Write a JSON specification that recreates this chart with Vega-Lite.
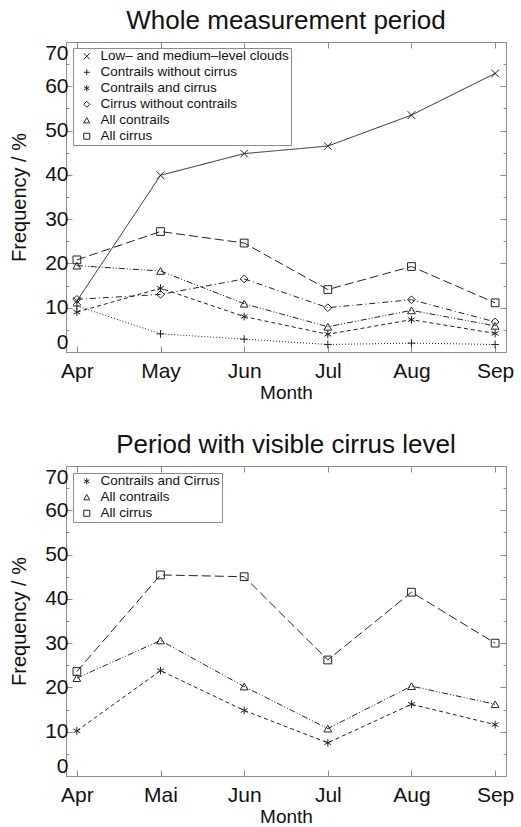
{
  "$schema": "https://vega.github.io/schema/vega-lite/v6.json",
  "padding": {"left": 9, "top": 7, "right": 5, "bottom": 0},
  "spacing": 28,
  "resolve": {"scale": {"shape": "independent", "strokeDash": "independent"}, "legend": {"shape": "independent", "strokeDash": "independent"}},
  "config": {
    "font": "Liberation Sans",
    "view": {"stroke": "#8c8c8c", "strokeWidth": 1},
    "axis": {"grid": false, "domain": false, "tickColor": "#8c8c8c", "labelColor": "#111", "titleColor": "#111", "titleFontWeight": "normal", "labelFont": "Liberation Sans", "titleFont": "Liberation Sans"},
    "title": {"fontSize": 26, "fontWeight": "normal", "color": "#111", "font": "Liberation Sans", "offset": 7.5},
    "legend": {"orient": "none", "legendX": 7, "legendY": 6, "title": null, "fillColor": "white", "strokeColor": "#8c8c8c", "padding": 1.5,
               "labelFontSize": 13.5, "labelFont": "Liberation Sans", "labelColor": "#111", "labelLimit": 300, "symbolSize": 36,
               "symbolStrokeColor": "#222", "symbolFillColor": "transparent", "symbolStrokeWidth": 1, "rowPadding": 1, "labelOffset": 7, "symbolOffset": 5.5}
  },
  "datasets": {
    "whole": [
      {"month": "Apr", "series": "Low– and medium–level clouds", "value": 11.5},
      {"month": "May", "series": "Low– and medium–level clouds", "value": 39.9},
      {"month": "Jun", "series": "Low– and medium–level clouds", "value": 44.8},
      {"month": "Jul", "series": "Low– and medium–level clouds", "value": 46.5},
      {"month": "Aug", "series": "Low– and medium–level clouds", "value": 53.5},
      {"month": "Sep", "series": "Low– and medium–level clouds", "value": 62.9},
      {"month": "Apr", "series": "Contrails without cirrus", "value": 10.4},
      {"month": "May", "series": "Contrails without cirrus", "value": 4.1},
      {"month": "Jun", "series": "Contrails without cirrus", "value": 2.9},
      {"month": "Jul", "series": "Contrails without cirrus", "value": 1.7},
      {"month": "Aug", "series": "Contrails without cirrus", "value": 2.0},
      {"month": "Sep", "series": "Contrails without cirrus", "value": 1.7},
      {"month": "Apr", "series": "Contrails and cirrus", "value": 9.0},
      {"month": "May", "series": "Contrails and cirrus", "value": 14.4},
      {"month": "Jun", "series": "Contrails and cirrus", "value": 8.0},
      {"month": "Jul", "series": "Contrails and cirrus", "value": 4.0},
      {"month": "Aug", "series": "Contrails and cirrus", "value": 7.3},
      {"month": "Sep", "series": "Contrails and cirrus", "value": 4.2},
      {"month": "Apr", "series": "Cirrus without contrails", "value": 11.9},
      {"month": "May", "series": "Cirrus without contrails", "value": 13.0},
      {"month": "Jun", "series": "Cirrus without contrails", "value": 16.5},
      {"month": "Jul", "series": "Cirrus without contrails", "value": 10.0},
      {"month": "Aug", "series": "Cirrus without contrails", "value": 11.8},
      {"month": "Sep", "series": "Cirrus without contrails", "value": 6.8},
      {"month": "Apr", "series": "All contrails", "value": 19.5},
      {"month": "May", "series": "All contrails", "value": 18.3},
      {"month": "Jun", "series": "All contrails", "value": 10.9},
      {"month": "Jul", "series": "All contrails", "value": 5.7},
      {"month": "Aug", "series": "All contrails", "value": 9.4},
      {"month": "Sep", "series": "All contrails", "value": 5.9},
      {"month": "Apr", "series": "All cirrus", "value": 20.8},
      {"month": "May", "series": "All cirrus", "value": 27.2},
      {"month": "Jun", "series": "All cirrus", "value": 24.6},
      {"month": "Jul", "series": "All cirrus", "value": 14.1},
      {"month": "Aug", "series": "All cirrus", "value": 19.3},
      {"month": "Sep", "series": "All cirrus", "value": 11.1}
    ],
    "visible": [
      {"month": "Apr", "series": "Contrails and Cirrus", "value": 10.2},
      {"month": "Mai", "series": "Contrails and Cirrus", "value": 23.8},
      {"month": "Jun", "series": "Contrails and Cirrus", "value": 14.8},
      {"month": "Jul", "series": "Contrails and Cirrus", "value": 7.5},
      {"month": "Aug", "series": "Contrails and Cirrus", "value": 16.2},
      {"month": "Sep", "series": "Contrails and Cirrus", "value": 11.6},
      {"month": "Apr", "series": "All contrails", "value": 22.1},
      {"month": "Mai", "series": "All contrails", "value": 30.6},
      {"month": "Jun", "series": "All contrails", "value": 20.2},
      {"month": "Jul", "series": "All contrails", "value": 10.7},
      {"month": "Aug", "series": "All contrails", "value": 20.3},
      {"month": "Sep", "series": "All contrails", "value": 16.2},
      {"month": "Apr", "series": "All cirrus", "value": 23.6},
      {"month": "Mai", "series": "All cirrus", "value": 45.4},
      {"month": "Jun", "series": "All cirrus", "value": 45.0},
      {"month": "Jul", "series": "All cirrus", "value": 26.2},
      {"month": "Aug", "series": "All cirrus", "value": 41.5},
      {"month": "Sep", "series": "All cirrus", "value": 30.0}
    ]
  },
  "vconcat": [
    {
      "title": {"text": "Whole measurement period"},
      "width": 440,
      "height": 310,
      "data": {"name": "whole"},
      "layer": [
        {
          "mark": {"type": "line", "color": "#222", "strokeWidth": 1},
          "encoding": {
            "x": {"field": "month", "type": "nominal", "scale": {"type": "point", "padding": 0.13, "domain": ["Apr", "May", "Jun", "Jul", "Aug", "Sep"]},
                  "axis": {"title": "Month", "titleFontSize": 19, "labelFontSize": 21, "labelAngle": 0, "tickSize": -6, "labelPadding": 14, "titlePadding": 2}},
            "y": {"field": "value", "type": "quantitative", "scale": {"domain": [0, 70], "nice": false},
                  "axis": {"title": "Frequency / %", "titleFontSize": 20, "labelFontSize": 21, "values": [0,5,10,15,20,25,30,35,40,45,50,55,60,65,70],
                           "labelExpr": "datum.value % 10 === 0 ? datum.label : ''", "labelOverlap": false, "labelFlush": true,
                           "tickSize": {"condition": {"test": "datum.value % 10 === 0", "value": -6}, "value": -3}, "labelPadding": 4, "titlePadding": 15}},
            "strokeDash": {"field": "series", "type": "nominal",
                           "sort": ["Low– and medium–level clouds", "Contrails without cirrus", "Contrails and cirrus", "Cirrus without contrails", "All contrails", "All cirrus"],
                           "scale": {"range": [[1, 0], [1, 2], [4, 3], [6, 3, 1, 3], [6, 2, 1, 2, 1, 2], [9, 4]]},
                           "legend": null}
          }
        },
        {
          "mark": {"type": "point", "filled": false, "color": "#222", "size": 60, "strokeWidth": 1, "opacity": 1},
          "encoding": {
            "x": {"field": "month", "type": "nominal", "scale": {"type": "point", "padding": 0.13, "domain": ["Apr", "May", "Jun", "Jul", "Aug", "Sep"]},
                  "axis": {"orient": "top", "labels": false, "title": null, "tickSize": -6}},
            "y": {"field": "value", "type": "quantitative", "scale": {"domain": [0, 70], "nice": false},
                  "axis": {"orient": "right", "labels": false, "title": null, "values": [0,5,10,15,20,25,30,35,40,45,50,55,60,65,70],
                           "tickSize": {"condition": {"test": "datum.value % 10 === 0", "value": -6}, "value": -3}}},
            "shape": {"field": "series", "type": "nominal",
                      "scale": {"domain": ["Low– and medium–level clouds", "Contrails without cirrus", "Contrails and cirrus", "Cirrus without contrails", "All contrails", "All cirrus"],
                                "range": ["M-1,-1L1,1M-1,1L1,-1", "M-1,0L1,0M0,-1L0,1", "M0,-1L0,1M-0.87,-0.5L0.87,0.5M-0.87,0.5L0.87,-0.5", "diamond", "triangle-up", "square"]},
                      "legend": {"orient": "none", "legendX": 7, "legendY": 6}}
          }
        }
      ],
      "resolve": {"axis": {"x": "independent", "y": "independent"}}
    },
    {
      "title": {"text": "Period with visible cirrus level"},
      "width": 440,
      "height": 310,
      "data": {"name": "visible"},
      "layer": [
        {
          "mark": {"type": "line", "color": "#222", "strokeWidth": 1},
          "encoding": {
            "x": {"field": "month", "type": "nominal", "scale": {"type": "point", "padding": 0.13, "domain": ["Apr", "Mai", "Jun", "Jul", "Aug", "Sep"]},
                  "axis": {"title": "Month", "titleFontSize": 19, "labelFontSize": 21, "labelAngle": 0, "tickSize": -6, "labelPadding": 14, "titlePadding": 2}},
            "y": {"field": "value", "type": "quantitative", "scale": {"domain": [0, 70], "nice": false},
                  "axis": {"title": "Frequency / %", "titleFontSize": 20, "labelFontSize": 21, "values": [0,5,10,15,20,25,30,35,40,45,50,55,60,65,70],
                           "labelExpr": "datum.value % 10 === 0 ? datum.label : ''", "labelOverlap": false, "labelFlush": true,
                           "tickSize": {"condition": {"test": "datum.value % 10 === 0", "value": -6}, "value": -3}, "labelPadding": 4, "titlePadding": 15}},
            "strokeDash": {"field": "series", "type": "nominal",
                           "sort": ["Contrails and Cirrus", "All contrails", "All cirrus"],
                           "scale": {"range": [[4, 3], [6, 2, 1, 2, 1, 2], [9, 4]]},
                           "legend": null}
          }
        },
        {
          "mark": {"type": "point", "filled": false, "color": "#222", "size": 60, "strokeWidth": 1, "opacity": 1},
          "encoding": {
            "x": {"field": "month", "type": "nominal", "scale": {"type": "point", "padding": 0.13, "domain": ["Apr", "Mai", "Jun", "Jul", "Aug", "Sep"]},
                  "axis": {"orient": "top", "labels": false, "title": null, "tickSize": -6}},
            "y": {"field": "value", "type": "quantitative", "scale": {"domain": [0, 70], "nice": false},
                  "axis": {"orient": "right", "labels": false, "title": null, "values": [0,5,10,15,20,25,30,35,40,45,50,55,60,65,70],
                           "tickSize": {"condition": {"test": "datum.value % 10 === 0", "value": -6}, "value": -3}}},
            "shape": {"field": "series", "type": "nominal",
                      "scale": {"domain": ["Contrails and Cirrus", "All contrails", "All cirrus"],
                                "range": ["M0,-1L0,1M-0.87,-0.5L0.87,0.5M-0.87,0.5L0.87,-0.5", "triangle-up", "square"]},
                      "legend": {"orient": "none", "legendX": 7, "legendY": 7}}
          }
        }
      ],
      "resolve": {"axis": {"x": "independent", "y": "independent"}}
    }
  ]
}
